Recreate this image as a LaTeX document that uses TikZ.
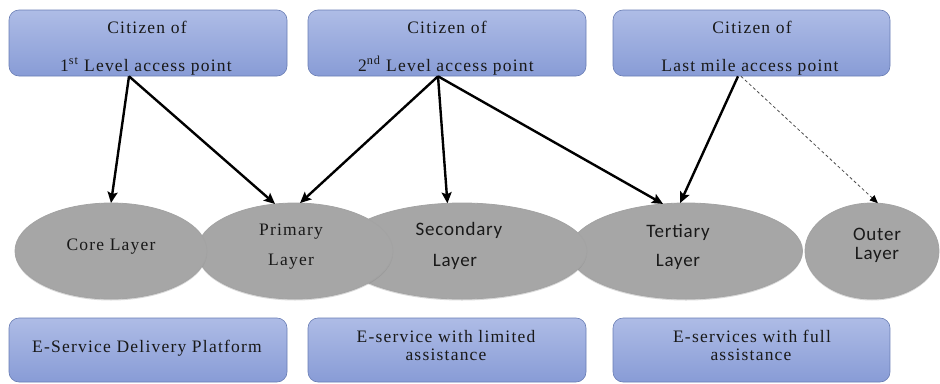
\documentclass[tikz,border=0pt]{standalone}
\usepackage{fontspec}
\setmainfont{Liberation Serif}
\newfontfamily\serifx{Liberation Serif}[LetterSpace=7]
\newfontfamily\sansx{Carlito}[LetterSpace=4]
\usetikzlibrary{shapes.geometric,arrows.meta,shadows,calc}
\definecolor{boxtop}{RGB}{174,188,230}
\definecolor{boxbot}{RGB}{136,156,214}
\definecolor{boxline}{RGB}{105,125,180}
\definecolor{layerfill}{RGB}{166,166,166}
\definecolor{txt}{RGB}{25,25,25}
\begin{document}
\begin{tikzpicture}[x=1pt,y=-1pt,
  citbox/.style={draw=boxline, line width=0.6pt, rounded corners=10pt,
    top color=boxtop, bottom color=boxbot, minimum width=278pt,
    minimum height=66pt, inner sep=0pt},
  svcbox/.style={citbox, minimum height=64pt},
  layer/.style={ellipse, fill=layerfill, draw=gray!72, line width=0.8pt,
    inner sep=0pt, outer sep=0pt, minimum height=96pt,
    drop shadow={opacity=0.3, shadow xshift=0pt, shadow yshift=-1.5pt}},
  stxt/.style={font=\serifx\fontsize{17.5}{20}\selectfont, text=txt,
    anchor=base, inner sep=0pt},
  ltxt/.style={font=\sansx\fontsize{19}{22}\selectfont, text=txt,
    anchor=base, inner sep=0pt},
  link/.style={line width=2.4pt, -{Stealth[length=11pt,width=10pt,inset=2pt]}},
  optlink/.style={line width=0.8pt, dash pattern=on 3pt off 2.5pt,
    draw=gray!60!black, -{Triangle[length=8pt,width=7pt,color=black]}}
]
\useasboundingbox (0,0) rectangle (940,383);

% top boxes
\node[citbox] (c1) at (148,43) {};
\node[citbox] (c2) at (447,43) {};
\node[citbox, minimum width=277pt] (c3) at (751.5,43) {};
\node[stxt] (c1a) at (147,33) {Citizen of};
\node[stxt] (c1b) at (146,71) {1\textsuperscript{st} Level access point};
\node[stxt] (c2a) at (447,33) {Citizen of};
\node[stxt] (c2b) at (446,71) {2\textsuperscript{nd} Level access point};
\node[stxt] (c3a) at (752,33) {Citizen of};
\node[stxt] (c3b) at (750,71) {Last mile access point};

% layers
\node[layer, minimum width=233pt] (tertiary) at (686,251) {};
\node[layer, minimum width=250pt] (secondary) at (462,251) {};
\node[layer, minimum width=196pt] (primary) at (295,251) {};
\node[layer, minimum width=192pt] (core) at (111,251) {};
\node[layer, minimum width=134pt] (outer) at (872,251) {};

\node[stxt] (t-core) at (111,250) {Core Layer};
\node[stxt] (t-prim1) at (291,235) {Primary};
\node[stxt] (t-prim2) at (291,265) {Layer};
\node[ltxt] (t-sec1) at (459,235) {Secondary};
\node[ltxt] (t-sec2) at (455,266) {Layer};
\node[ltxt] (t-ter1) at (678,237) {Tertiary};
\node[ltxt] (t-ter2) at (678,266) {Layer};
\node[ltxt] (t-out1) at (877,240) {Outer};
\node[ltxt] (t-out2) at (877,259) {Layer};

% bottom boxes
\node[svcbox] (p1) at (148,350) {};
\node[svcbox] (p2) at (447,350) {};
\node[svcbox, minimum width=277pt] (p3) at (751.5,350) {};
\node[stxt] (p1a) at (147,352) {E-Service Delivery Platform};
\node[stxt] (p2a) at (446,342) {E-service with limited};
\node[stxt] (p2b) at (446,360) {assistance};
\node[stxt] (p3a) at (752,342) {E-services with full};
\node[stxt] (p3b) at (751,360) {assistance};

% connectors
\draw[link] ($(c1.south)+(-19,0)$) -- (core.north);
\draw[link] ($(c1.south)+(-19,0)$) -- (primary.113);
\draw[link] ($(c2.south)+(-9,0)$) -- (primary.84);
\draw[link] ($(c2.south)+(-9,0)$) -- (secondary.107.5);
\draw[link] ($(c2.south)+(-9,0)$) -- (tertiary.116);
\draw[link] ($(c3.south)+(-13.5,0)$) -- (tertiary.97);
\draw[optlink] ($(c3.south)+(-10.5,0)$) -- (outer.83);
\end{tikzpicture}
\end{document}
